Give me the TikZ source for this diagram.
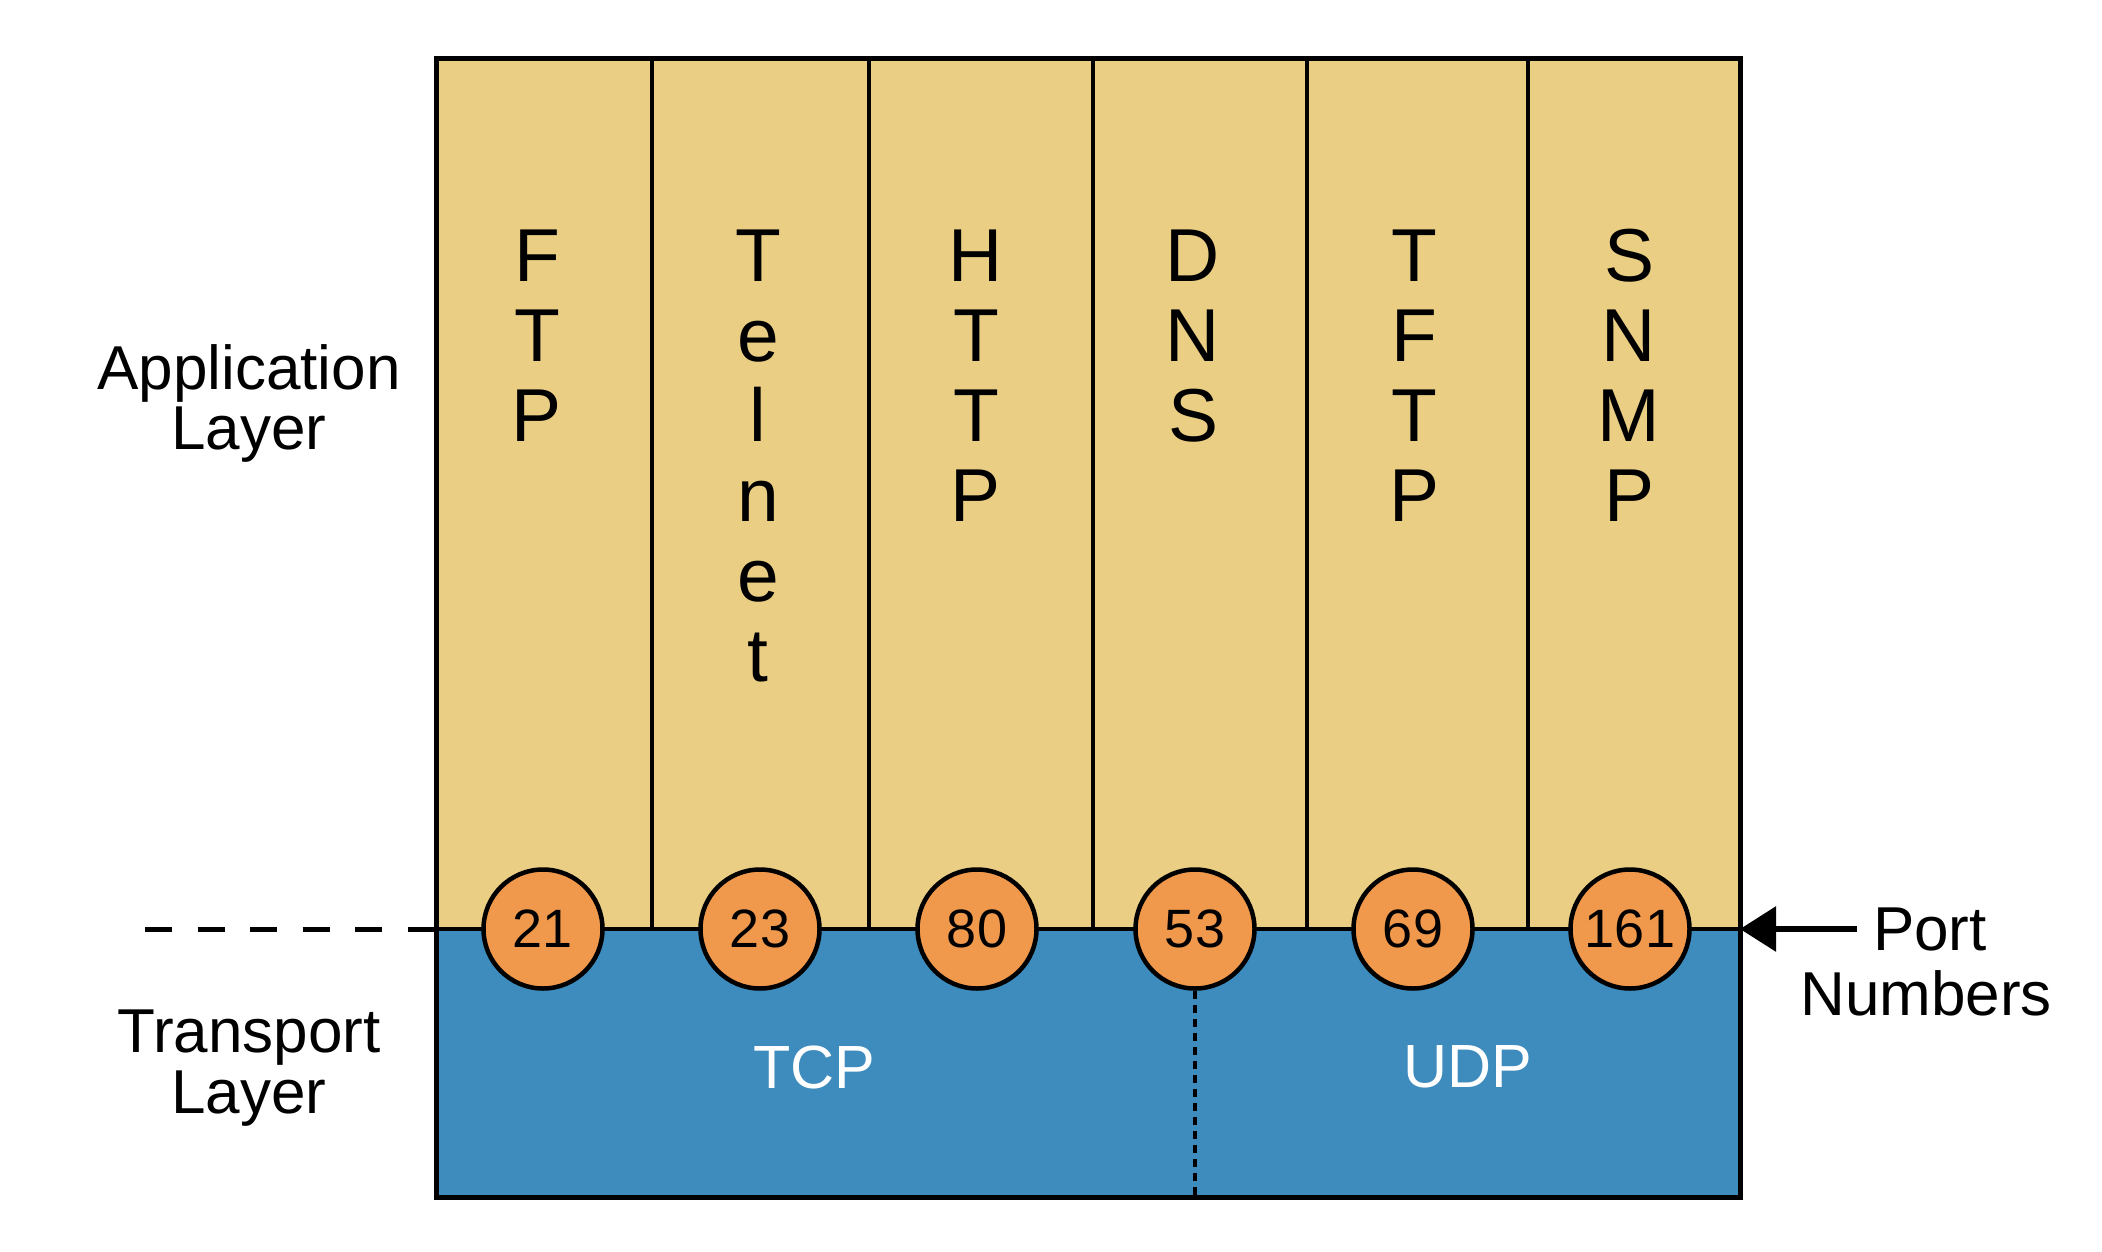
\documentclass[tikz,border=0pt]{standalone}
\usepackage{fontspec}
\setmainfont{Liberation Sans}
\usetikzlibrary{arrows.meta}
\definecolor{appfill}{RGB}{234,206,131}
\definecolor{tpfill}{RGB}{62,139,189}
\definecolor{portfill}{RGB}{240,152,75}

\begin{document}
\begin{tikzpicture}[x=1pt,y=-1pt,
	portnum/.style={circle,draw,line width=4.5pt,fill=portfill,minimum size=119pt,inner sep=0pt,font=\fontsize{54}{54}\selectfont},
	letter/.style={anchor=base,inner sep=0pt,font=\fontsize{75}{75}\selectfont},
	side/.style={anchor=base,inner sep=0pt,font=\fontsize{62}{62}\selectfont},
	tpname/.style={text=white,font=\fontsize{61}{61}\selectfont}]
	\useasboundingbox (0,0) rectangle (2102,1252);
	% layers
	\fill[appfill] (436,59) rectangle (1740,929);
	\fill[tpfill] (436,929) rectangle (1740,1197);
	\foreach \x in {652,869,1093,1307,1528} \draw[line width=3.5pt] (\x,59) -- (\x,929);
	\draw[line width=4.5pt] (436,929) -- (1740,929);
	\draw[line width=5pt] (436,59) rectangle (1740,1197);
	\coordinate (left) at (436,929);
	\coordinate (right) at (1740,929);
	\coordinate (dashstart) at (145,929);
	% protocol names
	\foreach \xc/\letters [count=\i] in {537/{F,T,P}, 758/{T,e,l,n,e,t}, 976/{H,T,T,P},
		1193/{D,N,S}, 1414/{T,F,T,P}, 1629/{S,N,M,P}}
		\foreach \l [count=\k] in \letters
			\node[letter] (c\i-\k) at (\xc,281+80*\k-80) {\l};
	% port numbers
	\node[portnum] (p21) at (543,929) {21};
	\node[portnum] (p23) at (760,929) {23};
	\node[portnum] (p80) at (977,929) {80};
	\node[portnum] (p53) at (1195,929) {53};
	\node[portnum] (p69) at (1413,929) {69};
	\node[portnum] (p161) at (1630,929) {161};
	\coordinate (tpbottom) at (1195,1197);
	\draw[line width=3.5pt,dash pattern=on 8pt off 6pt] (p53.south) -- (tpbottom);
	\node[tpname] (tcp) at (814,1067) {TCP};
	\node[tpname] (udp) at (1468,1067) {UDP};
	% labels
	\node[side] (app1) at (249,389) {Application};
	\node[side] (app2) at (249,449) {Layer};
	\node[side] (tp1) at (249,1052) {Transport};
	\node[side] (tp2) at (249,1113) {Layer};
	\node[side] (numbers) at (1926,1015) {Numbers};
	\node[font=\fontsize{62}{62}\selectfont,inner sep=16pt] (port) at (1930,929) {Port};
	\draw[line width=5pt,dash pattern=on 27pt off 25.5pt] (dashstart) -- (left);
	\draw[line width=6pt,-{Triangle[length=36pt,width=44pt]}] (port.west) -- (right);
\end{tikzpicture}
\end{document}
